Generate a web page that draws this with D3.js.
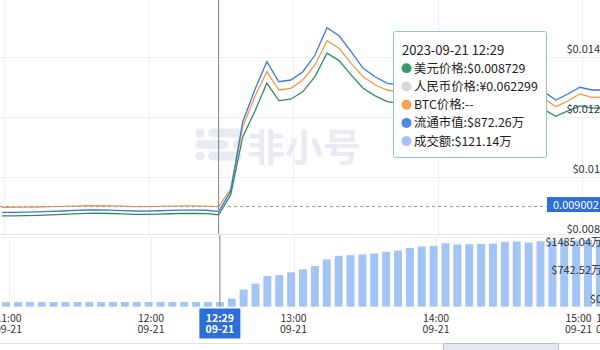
<!DOCTYPE html>
<html>
<head>
<meta charset="utf-8">
<script src="https://cdn.jsdelivr.net/npm/d3@7"></script>
<style>
  html, body { margin: 0; padding: 0; background: #fff; overflow: hidden; }
  svg { display: block; }
</style>
</head>
<body>
<svg id="chart" width="600" height="350"></svg>
<script>
// ---- data: 5-minute samples starting 2023-09-21 10:59 ----
const startTime = "2023-09-21 10:59";
const stepMinutes = 5;

// USD price
const usdPrice = [
  0.008690, 0.008692, 0.008698, 0.008710, 0.008725, 0.008740, 0.008755, 0.008772, 0.008778, 0.008770,
  0.008755, 0.008742, 0.008738, 0.008748, 0.008762, 0.008771, 0.008770, 0.008766, 0.008729, 0.009390,
  0.011333, 0.012167, 0.013113, 0.012533, 0.012580, 0.012833, 0.013333, 0.014113, 0.013867, 0.013390,
  0.012947, 0.012690, 0.012500, 0.012440, 0.012380, 0.012400, 0.012350, 0.012300, 0.012330, 0.012270,
  0.012250, 0.012300, 0.012260, 0.012220, 0.012250, 0.012240, 0.012010, 0.012190, 0.012357, 0.012280,
  0.012290
];
// BTC price, in satoshi
const btcPriceSats = [
  32.81, 32.81, 32.82, 32.84, 32.88, 32.92, 32.95, 32.99, 32.99, 32.97,
  32.93, 32.89, 32.89, 32.92, 32.95, 32.98, 32.98, 32.95, 32.88, 35.04,
  42.66, 46.32, 49.38, 47.14, 47.35, 48.36, 50.20, 53.17, 52.24, 50.40,
  48.77, 47.75, 47.14, 46.85, 46.63, 46.70, 46.52, 46.33, 46.44, 46.21,
  46.14, 46.33, 46.18, 46.03, 46.14, 46.10, 45.10, 45.80, 46.65, 46.25,
  46.29
];
// circulating market cap, 万 USD
const marketCapWan = [
  870.5, 870.5, 870.8, 871.7, 873.1, 874.3, 875.8, 877.2, 877.5, 876.6,
  875.2, 874.3, 874.0, 874.9, 876.1, 876.9, 876.9, 876.4, 872.26, 932.7,
  1135.2, 1227.9, 1310.6, 1252.1, 1257.1, 1281.3, 1330.1, 1409.9, 1386.5, 1339.8,
  1291.3, 1266.7, 1247.4, 1243.1, 1237.1, 1239.1, 1234.1, 1229.1, 1232.1, 1226.1,
  1224.1, 1229.1, 1225.1, 1221.1, 1224.1, 1223.1, 1198.6, 1216.2, 1235.8, 1227.9,
  1227.9
];
// trading volume, 万 USD
const volumeWan = [
  118.6, 119.2, 119.5, 119.9, 120.3, 120.4, 120.6, 120.8, 121.0, 120.9,
  120.7, 120.8, 121.0, 121.1, 121.0, 121.2, 121.1, 121.1, 121.14, 212,
  444, 599, 796, 821, 891, 969, 1054, 1227, 1322, 1338,
  1356, 1382, 1426, 1459, 1529, 1563, 1581, 1648, 1614, 1622,
  1632, 1640, 1684, 1692, 1666, 1700, 1718, 1718, 1720, 1730,
  1740
];

const priceTicks = [0.008, 0.010, 0.012, 0.014];
const priceTickLabels = ["$0.008", "$0.01", "$0.012", "$0.014"];
const volumeTicks = [0, 742.52, 1485.04];
const volumeTickLabels = ["$0", "$742.52万", "$1485.04万"];
const timeTicks = ["11:00", "12:00", "13:00", "14:00", "15:00", "15:13"];
const dateLabel = "09-21";

const hoverIndex = 18;
const lastPrice = 0.009002;
const rmbPrice = 0.062299;
const btcPriceText = "--";

// ---- layout ----
const svg = d3.select("#chart");
const font = "'Noto Sans CJK SC', 'Noto Sans', sans-serif";
const parse = d3.timeParse("%Y-%m-%d %H:%M");
const t0 = parse(startTime);
const times = usdPrice.map((_, i) => d3.timeMinute.offset(t0, i * stepMinutes));
const day = "2023-09-21 ";
const tick = s => parse(day + s);

const priceTop = 0, priceBottom = 236.5;
const volTop = 236.5, volBottom = 306.7;

const xPrice = d3.scaleTime().domain([tick("12:00"), tick("15:00")]).range([148.8, 582.3]);
const xVol = d3.scaleTime().domain([tick("12:00"), tick("15:00")]).range([151, 578.5]);

const yPrice = d3.scaleLinear().domain([0.008, 0.014]).range([236.6, 56.6]);
const yBtc = d3.scaleLinear().domain([29.54, 58.14]).range([234, 0]);
const yCap = d3.scaleLinear().domain([807, 1491]).range([234, 0]);
const yVol = d3.scaleLinear().domain([0, 1485.04]).range([volBottom, 249.5]);

const gridColor = "#eef0f4";

// watermark logo
const wm = svg.append("g").attr("fill", "#e8ecf2");
wm.append("circle").attr("cx", 200).attr("cy", 133).attr("r", 4.6);
wm.append("rect").attr("x", 208).attr("y", 128.5).attr("width", 34).attr("height", 9).attr("rx", 4.5);
wm.append("rect").attr("x", 195.5).attr("y", 140).attr("width", 33).attr("height", 9).attr("rx", 4.5);
wm.append("circle").attr("cx", 237.5).attr("cy", 144.5).attr("r", 4.6);
wm.append("circle").attr("cx", 200).attr("cy", 156).attr("r", 4.6);
wm.append("rect").attr("x", 208).attr("y", 151.5).attr("width", 34).attr("height", 9).attr("rx", 4.5);
wm.append("text").attr("x", 247).attr("y", 161).attr("font-family", font)
  .attr("font-size", 38).attr("font-weight", 700).text("非小号");

// price grid
const hours = timeTicks.slice(0, 5).map(tick);
svg.append("g").selectAll("line").data(priceTicks).join("line")
  .attr("x1", 0).attr("x2", 600)
  .attr("y1", d => Math.round(yPrice(d)) + 0.5).attr("y2", d => Math.round(yPrice(d)) + 0.5)
  .attr("stroke", gridColor);
svg.append("g").selectAll("line").data(hours).join("line")
  .attr("x1", d => Math.round(xPrice(d)) + 0.5).attr("x2", d => Math.round(xPrice(d)) + 0.5)
  .attr("y1", priceTop).attr("y2", priceBottom)
  .attr("stroke", gridColor);

// volume grid
svg.append("g").selectAll("line").data(hours).join("line")
  .attr("x1", d => Math.round(xVol(d)) + 0.5).attr("x2", d => Math.round(xVol(d)) + 0.5)
  .attr("y1", volTop).attr("y2", volBottom)
  .attr("stroke", gridColor);

// volume bars
const barW = 8;
svg.append("g").selectAll("rect").data(volumeWan).join("rect")
  .attr("x", (d, i) => xVol(times[i]) - barW / 2)
  .attr("y", d => yVol(d))
  .attr("width", barW)
  .attr("height", d => volBottom - yVol(d))
  .attr("fill", "#a3c5f6");

// lines
const mkLine = (ys) => d3.line().x((d, i) => xPrice(times[i])).y(d => ys(d));
svg.append("path").datum(usdPrice).attr("d", mkLine(yPrice))
  .attr("fill", "none").attr("stroke", "#2f8c62").attr("stroke-width", 1.3);
svg.append("path").datum(btcPriceSats).attr("d", mkLine(yBtc))
  .attr("fill", "none").attr("stroke", "#f09a48").attr("stroke-width", 1.3);
svg.append("path").datum(marketCapWan).attr("d", mkLine(yCap))
  .attr("fill", "none").attr("stroke", "#3b77dc").attr("stroke-width", 1.3);

// separators
svg.append("line").attr("x1", 0).attr("x2", 600).attr("y1", 234.5).attr("y2", 234.5)
  .attr("stroke", "#e3e7ee");
svg.append("line").attr("x1", 0).attr("x2", 600).attr("y1", 343.5).attr("y2", 343.5)
  .attr("stroke", "#dfe3ea");
// range slider window
svg.append("rect").attr("x", 443.5).attr("y", 343.5).attr("width", 115).attr("height", 10)
  .attr("fill", "#e3e8f1").attr("stroke", "#b8c2d4");

// latest-price marker line
const yLast = yPrice(lastPrice);
svg.append("line").attr("x1", 0).attr("x2", 547).attr("y1", yLast).attr("y2", yLast)
  .attr("stroke", "#999").attr("stroke-dasharray", "3,3");

// crosshair
const xh = xPrice(times[hoverIndex]);
const xhv = xVol(times[hoverIndex]);
svg.append("line").attr("x1", xh).attr("x2", xh).attr("y1", 0).attr("y2", 234)
  .attr("stroke", "#808080");
svg.append("line").attr("x1", xhv).attr("x2", xhv).attr("y1", 235).attr("y2", volBottom)
  .attr("stroke", "#808080");

// price axis labels (right, above gridlines)
svg.append("g").selectAll("text").data(priceTicks).join("text")
  .attr("x", 600).attr("y", d => yPrice(d) - 4)
  .attr("text-anchor", "end").attr("font-family", font).attr("font-size", 11)
  .attr("fill", "#333").text((d, i) => priceTickLabels[i]);

// volume axis labels
svg.append("g").selectAll("text").data(volumeTicks).join("text")
  .attr("x", 602).attr("y", d => yVol(d) - 4)
  .attr("text-anchor", "end").attr("font-family", font).attr("font-size", 11)
  .attr("fill", "#333").text((d, i) => volumeTickLabels[i]);

// latest price tag
svg.append("rect").attr("x", 547).attr("y", yLast - 9.5).attr("width", 56).attr("height", 15)
  .attr("fill", "#2c6fd9");
svg.append("text").attr("x", 553).attr("y", yLast + 2.5).attr("font-family", font)
  .attr("font-size", 11).attr("fill", "#fff").text(lastPrice.toFixed(6));

// time axis labels
const tg = svg.append("g").attr("font-family", font).attr("font-size", 10.5)
  .attr("fill", "#333").attr("text-anchor", "middle");
timeTicks.forEach(s => {
  const x = xVol(tick(s));
  tg.append("text").attr("x", x).attr("y", 321.5).text(s);
  tg.append("text").attr("x", x).attr("y", 333).text(dateLabel);
});

// hovered time tag
const hoverTime = times[hoverIndex];
svg.append("rect").attr("x", xhv - 20.5).attr("y", 308.5).attr("width", 41).attr("height", 30)
  .attr("fill", "#2c6fd9");
svg.append("text").attr("x", xhv).attr("y", 321.5).attr("text-anchor", "middle")
  .attr("font-family", font).attr("font-size", 10.5).attr("font-weight", 700).attr("fill", "#fff")
  .text(d3.timeFormat("%H:%M")(hoverTime));
svg.append("text").attr("x", xhv).attr("y", 333).attr("text-anchor", "middle")
  .attr("font-family", font).attr("font-size", 10.5).attr("font-weight", 700).attr("fill", "#fff")
  .text(d3.timeFormat("%m-%d")(hoverTime));

// tooltip
const tip = svg.append("g");
tip.append("rect").attr("x", 393.5).attr("y", 31.5).attr("width", 153).attr("height", 126)
  .attr("fill", "#fff").attr("stroke", "#94bfd3").attr("rx", 2);
tip.append("text").attr("x", 402).attr("y", 54.5).attr("font-family", font)
  .attr("font-size", 13).attr("fill", "#222")
  .text(d3.timeFormat("%Y-%m-%d %H:%M")(hoverTime));
const rows = [
  { color: "#3a9a6c", text: "美元价格:$" + usdPrice[hoverIndex].toFixed(6) },
  { color: "#d8d8d8", text: "人民币价格:¥" + rmbPrice.toFixed(6) },
  { color: "#f5a356", text: "BTC价格:" + btcPriceText },
  { color: "#4b8bef", text: "流通市值:$" + marketCapWan[hoverIndex].toFixed(2) + "万" },
  { color: "#a3c5f6", text: "成交额:$" + volumeWan[hoverIndex].toFixed(2) + "万" }
];
rows.forEach((r, i) => {
  const cy = 68.3 + i * 18.2;
  tip.append("circle").attr("cx", 406.5).attr("cy", cy).attr("r", 5).attr("fill", r.color);
  tip.append("text").attr("x", 414).attr("y", cy + 4.5).attr("font-family", font)
    .attr("font-size", 12.4).attr("fill", "#222").text(r.text);
});
</script>
</body>
</html>
